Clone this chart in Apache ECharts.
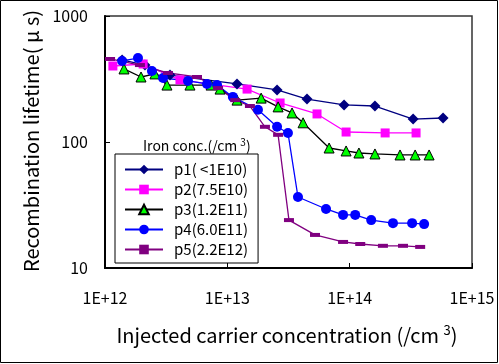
<!DOCTYPE html>
<html><head><meta charset="utf-8">
<script src="https://cdn.jsdelivr.net/npm/echarts@6/dist/echarts.min.js"></script>
<style>html,body{margin:0;padding:0;background:#fff}#c{width:499px;height:364px}</style>
</head><body><div id="c"></div>
<script>
const seriesNames = ['p1( <1E10)', 'p2(7.5E10)', 'p3(1.2E11)', 'p4(6.0E11)', 'p5(2.2E12)'];
const xTickLabels = {12: '1E+12', 13: '1E+13', 14: '1E+14', 15: '1E+15'};
const yTickLabels = {1: '10', 2: '100', 3: '1000'};

const p1X = [1.38e12, 2.12e12, 3.40e12, 1.20e13, 2.55e13, 4.48e13, 9.0e13, 1.61e14, 3.30e14, 5.80e14];
const p1Y = [448, 408, 340, 289, 259, 219, 197, 193, 152, 155];

const p2X = [1.16e12, 2.05e12, 4.10e12, 1.45e13, 2.70e13, 5.41e13, 9.35e13, 1.95e14, 3.49e14];
const p2Y = [401, 416, 311, 263, 204, 167, 120, 118, 118];

const p3X = [1.43e12, 1.97e12, 2.56e12, 3.21e12, 4.95e12, 7.36e12, 8.72e12, 1.20e13, 1.89e13, 2.60e13, 3.38e13, 4.16e13, 6.79e13, 9.35e13, 1.19e14, 1.61e14, 2.58e14, 3.43e14, 4.46e14];
const p3Y = [380, 328, 347, 283, 283, 283, 263, 215, 223, 190, 170, 142, 89.6, 84.9, 81.8, 80.4, 78.9, 78.9, 78.9];

const p4X = [1.38e12, 1.86e12, 2.42e12, 2.98e12, 4.77e12, 6.82e12, 8.24e12, 1.11e13, 1.78e13, 2.55e13, 3.13e13, 3.78e13, 6.41e13, 8.83e13, 1.11e14, 1.50e14, 2.26e14, 3.24e14, 4.06e14];
const p4Y = [440, 464, 366, 322, 305, 289, 283, 228, 180, 132, 118, 36.6, 29.4, 26.4, 26.4, 24.0, 22.7, 22.7, 22.3];

const p5X = [1.10e12, 1.93e12, 3.27e12, 5.65e12, 8.40e12, 1.16e13, 1.53e13, 2.03e13, 2.60e13, 3.19e13, 5.21e13, 8.83e13, 1.22e14, 1.87e14, 2.73e14, 3.77e14];
const p5Y = [456, 408, 353, 328, 268, 215, 193, 132, 114, 24.0, 18.3, 16.1, 15.5, 15.0, 15.0, 14.7];

const FONT = '"Noto Sans CJK JP", "Noto Sans", sans-serif';
const zip = (xs, ys) => xs.map((x, i) => [x, ys[i]]);

function mk(name, xs, ys, lineColor, fill, symbol, size, border) {
  return {
    name: name, type: 'line', data: zip(xs, ys),
    symbol: symbol, symbolSize: size, showSymbol: true,
    lineStyle: {color: lineColor, width: 1.3},
    itemStyle: {color: fill, borderColor: border || fill, borderWidth: border ? 1 : 0},
    emphasis: {disabled: true}, animation: false
  };
}

const chart = echarts.init(document.getElementById('c'), null, {renderer: 'canvas'});
chart.setOption({
  animation: false,
  backgroundColor: '#fff',
  grid: {left: 105, right: 27, top: 16, bottom: 96, show: true, borderColor: '#333', borderWidth: 1.5, backgroundColor: 'transparent'},
  xAxis: {
    type: 'log', logBase: 10, min: 1e12, max: 1e15,
    axisLine: {show: true, lineStyle: {color: '#000', width: 2}},
    axisTick: {show: true, inside: true, length: 5, lineStyle: {color: '#000'}},
    minorTick: {show: false}, splitLine: {show: false},
    axisLabel: {margin: 22, fontSize: 16, color: '#000', fontFamily: FONT,
      formatter: v => xTickLabels[Math.round(Math.log10(v))] || ''}
  },
  yAxis: {
    type: 'log', logBase: 10, min: 10, max: 1000,
    axisLine: {show: true, lineStyle: {color: '#000', width: 2}},
    axisTick: {show: true, inside: true, length: 5, lineStyle: {color: '#000'}},
    minorTick: {show: false}, splitLine: {show: false},
    axisLabel: {margin: 17, fontSize: 16, color: '#000', fontFamily: FONT,
      formatter: v => yTickLabels[Math.round(Math.log10(v))] || ''}
  },
  legend: {
    orient: 'vertical', left: 115, top: 154,
    padding: [8, 10, 6, 9],
    backgroundColor: '#fff', borderColor: '#000', borderWidth: 1,
    itemWidth: 38, itemHeight: 12, itemGap: 5,
    textStyle: {fontSize: 15, color: '#000', fontFamily: FONT, lineHeight: 15, padding: [0, 0, 0, 6]},
    data: seriesNames
  },
  series: [
    mk(seriesNames[0], p1X, p1Y, '#000080', '#000080', 'diamond', 11),
    mk(seriesNames[1], p2X, p2Y, '#ff00ff', '#ff00ff', 'rect', 9),
    mk(seriesNames[2], p3X, p3Y, '#000000', '#00ff00', 'triangle', 10, '#000'),
    mk(seriesNames[3], p4X, p4Y, '#0000ff', '#0000ff', 'circle', 10),
    mk(seriesNames[4], p5X, p5Y, '#800080', '#800080', 'rect', [10, 4])
  ],
  graphic: [
    {type: 'rect', shape: {x: 0.5, y: 0.5, width: 497, height: 362}, style: {fill: 'none', stroke: '#000', lineWidth: 1}, silent: true, z: 100},
    {type: 'text', x: 143, y: 146, style: {
      text: '{a|Iron conc.(/cm }{s|3}{a|)}', fontFamily: FONT, textVerticalAlign: 'middle', fill: '#000',
      rich: {a: {fontSize: 14, fontFamily: FONT, fill: '#000'}, s: {fontSize: 10, fontFamily: FONT, fill: '#000', padding: [0, 0, 7, 0]}}
    }, z: 100},
    {type: 'text', x: 287, y: 335, style: {
      text: '{a|Injected carrier concentration (/cm }{s|3}{a|)}', fontFamily: FONT, textAlign: 'center', textVerticalAlign: 'middle', fill: '#000',
      rich: {a: {fontSize: 20, fontFamily: FONT, fill: '#000'}, s: {fontSize: 13, fontFamily: FONT, fill: '#000', padding: [0, 0, 10, 0]}}
    }, z: 100},
    {type: 'text', x: 31, y: 141, rotation: Math.PI / 2, style: {
      text: 'Recombination lifetime( μ s)', fontSize: 20, fontFamily: FONT, textAlign: 'center', textVerticalAlign: 'middle', fill: '#000'
    }, z: 100}
  ]
});
</script></body></html>
